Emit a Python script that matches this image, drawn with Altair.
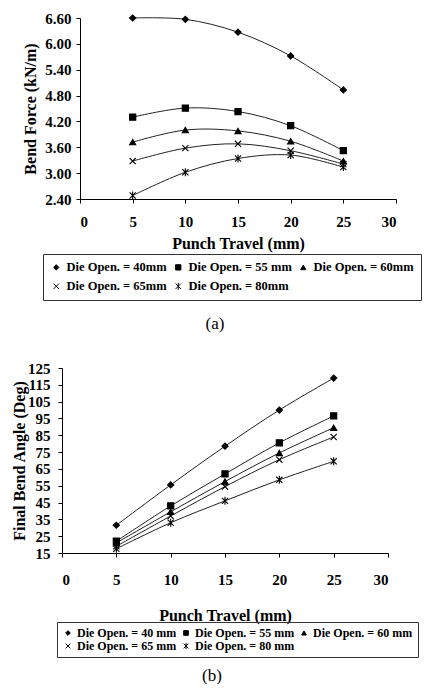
import altair as alt
import pandas as pd

# ---------------- data ----------------
travel = [5, 10, 15, 20, 25]

series_a = ["Die Open. = 40mm", "Die Open. = 55 mm", "Die Open. = 60mm",
            "Die Open. = 65mm", "Die Open. = 80mm"]
force_40 = [6.60, 6.57, 6.27, 5.72, 4.93]
force_55 = [4.30, 4.51, 4.43, 4.10, 3.52]
force_60 = [3.72, 4.00, 3.98, 3.74, 3.28]
force_65 = [3.28, 3.58, 3.68, 3.52, 3.21]
force_80 = [2.48, 3.02, 3.34, 3.42, 3.14]

series_b = ["Die Open. = 40 mm", "Die Open. = 55 mm", "Die Open. = 60 mm",
            "Die Open. = 65 mm", "Die Open. = 80 mm"]
angle_40 = [31.5, 55.5, 78.5, 100.0, 119.0]
angle_55 = [22.0, 43.0, 62.0, 80.5, 96.5]
angle_60 = [21.0, 39.5, 57.5, 74.5, 89.5]
angle_65 = [19.0, 37.0, 54.5, 70.5, 84.0]
angle_80 = [17.5, 33.0, 46.0, 58.5, 69.5]

x_ticks = [0, 5, 10, 15, 20, 25, 30]
force_ticks = [2.4, 3.0, 3.6, 4.2, 4.8, 5.4, 6.0, 6.6]
angle_ticks = [15, 25, 35, 45, 55, 65, 75, 85, 95, 105, 115, 125]

shapes = ["diamond", "square", "triangle-up",
          "M-1,-1L1,1M-1,1L1,-1",
          "M-1,-1L1,1M-1,1L1,-1M0,-1.3L0,1.3"]
fills = ["black", "black", "black", "transparent", "transparent"]
strokes = ["black"] * 5

FONT = "Liberation Serif"

# layout (pixels)
SHIFT_A = 18          # panel (a) plot starts this far right of panel (b)
W_A, H_A = 316, 181
W_B, H_B = 326, 185


def make_df(series, values):
    rows = []
    for s, vals in zip(series, values):
        for x, v in zip(travel, vals):
            rows.append({"x": x, "y": v, "s": s})
    return pd.DataFrame(rows)


df_a = make_df(series_a, [force_40, force_55, force_60, force_65, force_80])
df_b = make_df(series_b, [angle_40, angle_55, angle_60, angle_65, angle_80])


def panel(df, series, xaxis, yaxis, xrange, ydom, legend, w, h, caption):
    base = alt.Chart(df)
    xenc = alt.X("x:Q", scale=alt.Scale(domain=[0, 30], nice=False, range=xrange), axis=xaxis)
    yenc = alt.Y("y:Q", scale=alt.Scale(domain=ydom, nice=False, zero=False), axis=yaxis)
    line = base.mark_line(interpolate="catmull-rom", color="#222222", strokeWidth=1).encode(
        x=xenc, y=yenc, detail="s:N")
    pts = base.mark_point(filled=False, size=38, strokeWidth=1.1, opacity=1).encode(
        x=xenc, y=yenc,
        shape=alt.Shape("s:N", scale=alt.Scale(domain=series, range=shapes), legend=legend),
        fill=alt.Fill("s:N", scale=alt.Scale(domain=series, range=fills), legend=legend),
        stroke=alt.Stroke("s:N", scale=alt.Scale(domain=series, range=strokes), legend=legend),
    )
    return alt.layer(line, pts).properties(width=w, height=h, title=caption)


axis_common = dict(grid=False, domainColor="black", tickColor="black", tickSize=4,
                   labelFont=FONT, labelFontWeight="bold", labelColor="black",
                   titleFont=FONT, titleFontWeight="bold", titleColor="black")

xaxis_a = alt.Axis(values=x_ticks, title="Punch Travel (mm)", labelFontSize=15,
                   labelPadding=11, titleFontSize=16, titlePadding=6, **axis_common)
yaxis_a = alt.Axis(values=force_ticks, format=".2f", title="Bend Force (kN/m)",
                   labelFontSize=15, labelPadding=5, offset=-SHIFT_A,
                   titleFontSize=16, titlePadding=6, **axis_common)
legend_a = alt.Legend(orient="none", legendX=SHIFT_A - 37, legendY=236, columns=3,
                      direction="horizontal", title=None,
                      strokeColor="#333333", padding=7, labelFont=FONT, labelFontSize=12.5,
                      labelFontWeight="bold", labelColor="black", symbolSize=28,
                      symbolStrokeWidth=1, rowPadding=6,
                      columnPadding=5, labelOffset=4, labelLimit=300)

xaxis_b = alt.Axis(values=x_ticks, title="Punch Travel (mm)", labelFontSize=15,
                   labelPadding=15, titleFontSize=16, titlePadding=20, **axis_common)
yaxis_b = alt.Axis(values=angle_ticks, title="Final Bend Angle (Deg)", labelFontSize=15,
                   labelPadding=8, titleFontSize=16, titlePadding=0, **axis_common)
legend_b = alt.Legend(orient="none", legendX=-5, legendY=254, columns=3,
                      direction="horizontal", title=None,
                      strokeColor="#333333", padding=5, labelFont=FONT, labelFontSize=12,
                      labelFontWeight="bold", labelColor="black", symbolSize=22,
                      symbolStrokeWidth=1, rowPadding=1,
                      columnPadding=3, labelOffset=3, labelLimit=300)

cap_a = alt.TitleParams("(a)", orient="bottom", anchor="middle", dx=-14, offset=15,
                        font=FONT, fontSize=17, fontWeight="normal", color="black")
cap_b = alt.TitleParams("(b)", orient="bottom", anchor="middle", dx=-13, offset=10,
                        font=FONT, fontSize=17, fontWeight="normal", color="black")

chart_a = panel(df_a, series_a, xaxis_a, yaxis_a, [SHIFT_A, SHIFT_A + W_A], [2.4, 6.6],
                legend_a, SHIFT_A + W_A, H_A, cap_a)
chart_b = panel(df_b, series_b, xaxis_b, yaxis_b, [0, W_B], [15, 125],
                legend_b, W_B, H_B, cap_b)

chart = alt.vconcat(chart_a, chart_b, spacing=29).resolve_scale(
    shape="independent", fill="independent", stroke="independent"
).resolve_legend(shape="independent", fill="independent", stroke="independent").properties(
    padding={"left": 11, "top": 11, "right": 0, "bottom": 0},
    background="white",
).configure_view(stroke=None)

chart.save("out.html", embed_options={"renderer": "svg", "actions": False})
